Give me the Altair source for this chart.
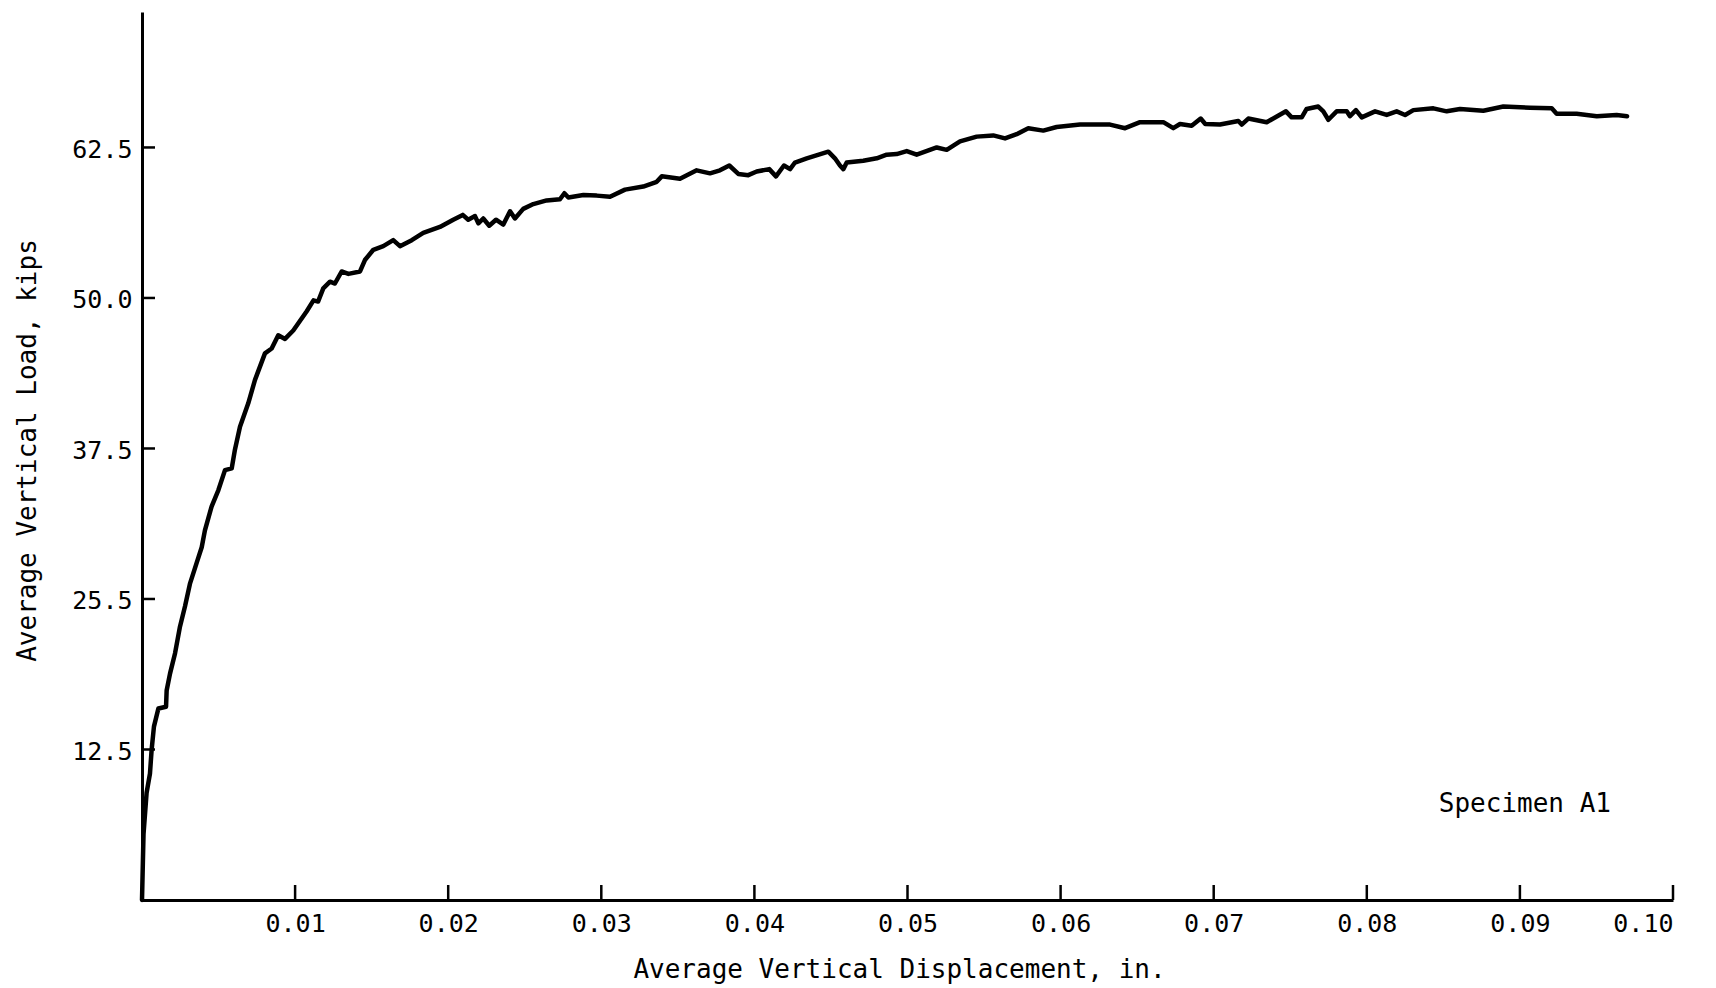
import altair as alt
import pandas as pd

# Load-displacement record, Specimen A1
disp = [
    0.0, 0.0001, 0.0003, 0.00052, 0.00063, 0.00078, 0.00107, 0.00157, 0.00161, 0.00183,
    0.00216, 0.00248, 0.00281, 0.00314, 0.00357, 0.0039, 0.00411, 0.00455, 0.00499, 0.00542,
    0.00586, 0.00607, 0.0064, 0.00694, 0.00738, 0.00803, 0.00847, 0.0089, 0.00934, 0.00988,
    0.01076, 0.0112, 0.0115, 0.01184, 0.01228, 0.0126, 0.01304, 0.01348, 0.01424, 0.01456,
    0.01511, 0.01576, 0.01641, 0.01685, 0.01762, 0.01837, 0.01946, 0.02033, 0.02095, 0.02131,
    0.02175, 0.02197, 0.02229, 0.02268, 0.02312, 0.0236, 0.02404, 0.02436, 0.0249, 0.02556,
    0.02643, 0.0273, 0.02759, 0.02785, 0.02883, 0.0297, 0.03057, 0.03155, 0.03274, 0.03362,
    0.03395, 0.03514, 0.03623, 0.0371, 0.03775, 0.03836, 0.03895, 0.0396, 0.04015, 0.04097,
    0.04141, 0.04193, 0.04233, 0.04265, 0.04342, 0.04483, 0.04526, 0.04559, 0.04581, 0.04603,
    0.04711, 0.04799, 0.04864, 0.04929, 0.04995, 0.0506, 0.05191, 0.05256, 0.05343, 0.05452,
    0.0556, 0.05637, 0.05713, 0.05789, 0.05887, 0.05974, 0.06127, 0.06323, 0.06421, 0.06519,
    0.06671, 0.06736, 0.0678, 0.06856, 0.06915, 0.06945, 0.07041, 0.07161, 0.07183, 0.07226,
    0.07346, 0.07472, 0.07509, 0.07575, 0.07607, 0.07683, 0.07716, 0.07749, 0.07803, 0.07869,
    0.0789, 0.07929, 0.07967, 0.08054, 0.0813, 0.08195, 0.0825, 0.08304, 0.08435, 0.08522,
    0.08609, 0.08761, 0.08892, 0.09066, 0.09208, 0.0924, 0.09371, 0.09502, 0.09632, 0.0970,
]
load = [
    0.0, 5.5, 8.9, 10.5, 12.5, 14.4, 15.9, 16.05, 17.4, 18.8,
    20.5, 22.7, 24.4, 26.3, 28.0, 29.3, 30.7, 32.7, 34.05, 35.7,
    35.85, 37.4, 39.3, 41.25, 43.2, 45.4, 45.8, 46.9, 46.6, 47.3,
    48.9, 49.8, 49.7, 50.8, 51.35, 51.2, 52.2, 52.0, 52.2, 53.15,
    54.0, 54.3, 54.8, 54.3, 54.8, 55.4, 55.9, 56.5, 56.9, 56.5,
    56.8, 56.2, 56.6, 56.0, 56.5, 56.1, 57.2, 56.6, 57.4, 57.8,
    58.1, 58.2, 58.7, 58.35, 58.55, 58.5, 58.4, 59.0, 59.25, 59.65,
    60.1, 59.9, 60.6, 60.35, 60.6, 61.0, 60.3, 60.2, 60.5, 60.7,
    60.1, 61.0, 60.7, 61.25, 61.6, 62.15, 61.6, 61.0, 60.7, 61.25,
    61.4, 61.6, 61.9, 61.95, 62.2, 61.9, 62.5, 62.3, 63.0, 63.4,
    63.5, 63.25, 63.6, 64.1, 63.9, 64.2, 64.4, 64.4, 64.1, 64.6,
    64.6, 64.1, 64.45, 64.3, 64.9, 64.45, 64.4, 64.7, 64.4, 64.9,
    64.6, 65.5, 65.0, 65.0, 65.7, 65.9, 65.5, 64.8, 65.5, 65.5,
    65.1, 65.6, 65.0, 65.5, 65.2, 65.5, 65.2, 65.6, 65.75, 65.5,
    65.7, 65.55, 65.9, 65.8, 65.75, 65.3, 65.3, 65.1, 65.2, 65.1,
]
assert len(disp) == len(load)

x_ticks = [0.01, 0.02, 0.03, 0.04, 0.05, 0.06, 0.07, 0.08, 0.09, 0.10]
y_ticks = [12.5, 25.0, 37.5, 50.0, 62.5]
y_tick_labels = ["12.5", "25.5", "37.5", "50.0", "62.5"]

specimen = pd.DataFrame({"x": [0.0847], "y": [7.3], "t": ["Specimen A1"]})

FONT = "DejaVu Sans Mono"
W, H = 1531, 888

# label expression mapping each y tick to its printed label
y_label_expr = "''"
for v, t in reversed(list(zip(y_ticks, y_tick_labels))):
    y_label_expr = f"datum.value == {v} ? '{t}' : {y_label_expr}"

x_scale = alt.Scale(domain=[0, 0.1], nice=False, zero=True)
y_scale = alt.Scale(domain=[0, 73.75], nice=False, zero=True)

x_axis = alt.Axis(
    values=x_ticks,
    format=".2f",
    title="Average Vertical Displacement, in.",
    labelPadding=11,
    titleX=757,
    titleY=77,
    titleAlign="center",
    titleBaseline="alphabetic",
)
y_axis = alt.Axis(
    values=y_ticks,
    labelExpr=y_label_expr,
    title="Average Vertical Load, kips",
    labelPadding=10,
    labelOffset=2,
    titleX=-115,
    titleY=438,
    titleAngle=270,
    titleAlign="center",
    titleBaseline="middle",
)

curve = pd.DataFrame({"disp": disp, "load": load})

line = alt.Chart(curve).mark_line(
    color="black", strokeWidth=4.5, strokeJoin="round", strokeCap="round"
).encode(
    x=alt.X("disp:Q", scale=x_scale, axis=x_axis),
    y=alt.Y("load:Q", scale=y_scale, axis=y_axis),
)

# inward-pointing tick marks
x_tick_marks = alt.Chart(pd.DataFrame({"disp": x_ticks})).mark_rule(
    color="black", strokeWidth=2.5
).encode(
    x=alt.X("disp:Q", scale=x_scale, axis=x_axis),
    y=alt.value(H),
    y2=alt.value(H - 15),
)

y_tick_marks = alt.Chart(pd.DataFrame({"load": y_ticks})).mark_rule(
    color="black", strokeWidth=2.5
).encode(
    y=alt.Y("load:Q", scale=y_scale, axis=y_axis),
    x=alt.value(0),
    x2=alt.value(13),
)

label = alt.Chart(specimen).mark_text(
    align="left", baseline="alphabetic", font=FONT, fontSize=26, color="black"
).encode(
    x=alt.X("x:Q", scale=x_scale, axis=x_axis),
    y=alt.Y("y:Q", scale=y_scale, axis=y_axis),
    text="t:N",
)

chart = (
    alt.layer(line, x_tick_marks, y_tick_marks, label)
    .properties(
        width=W,
        height=H,
        autosize=alt.AutoSizeParams(type="none"),
        padding={"left": 142, "top": 12, "right": 43, "bottom": 88},
        background="white",
    )
    .configure_view(stroke=None)
    .configure_axis(
        grid=False,
        ticks=False,
        domainColor="black",
        domainWidth=3,
        labelFont=FONT,
        labelFontSize=25,
        labelColor="black",
        titleFont=FONT,
        titleFontSize=26,
        titleFontWeight="normal",
        titleColor="black",
    )
)

chart.save("out.html", embed_options={"renderer": "svg", "actions": False})
